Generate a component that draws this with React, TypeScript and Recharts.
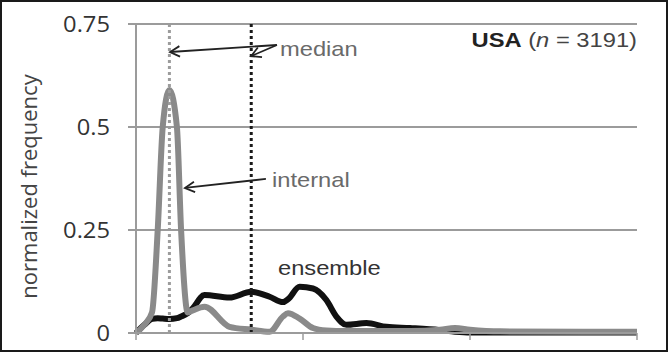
import React from "react";
import {
  LineChart,
  Line,
  XAxis,
  YAxis,
  CartesianGrid,
  ReferenceLine,
  ReferenceDot,
  Label,
} from "recharts";

// normalized frequency curves, sampled along the x axis
const xValues = [
  0, 0.05, 0.096, 0.13, 0.16, 0.2, 0.245, 0.27, 0.31, 0.34, 0.41, 0.56, 0.69,
  0.8, 0.88, 0.91, 0.98, 1.06, 1.14, 1.2, 1.26, 1.38, 1.5, 1.64, 1.82, 1.91,
  2.0, 2.18, 3.0,
];
const internalValues = [
  0, 0.02, 0.05, 0.25, 0.5, 0.59, 0.5, 0.25, 0.05, 0.055, 0.064, 0.015, 0.008,
  0.003, 0.04, 0.048, 0.035, 0.012, 0.006, 0.005, 0.005, 0.005, 0.005, 0.005,
  0.008, 0.012, 0.008, 0.004, 0.003,
];
const ensembleValues = [
  0, 0.02, 0.034, 0.036, 0.035, 0.034, 0.036, 0.04, 0.048, 0.06, 0.092, 0.086,
  0.1, 0.088, 0.075, 0.082, 0.112, 0.108, 0.08, 0.04, 0.02, 0.024, 0.015,
  0.012, 0.007, 0.003, 0.001, 0.001, 0.001,
];

const yTicks = [0, 0.25, 0.5, 0.75];
const xTicks = [0, 1, 2, 3];
const medianInternal = 0.2;
const medianEnsemble = 0.69;

// annotation arrows (tail -> head) and labels, in data units
const arrows = [
  { from: [0.844, 0.699], to: [0.204, 0.682] },
  { from: [0.844, 0.699], to: [0.689, 0.672] },
  { from: [0.778, 0.374], to: [0.293, 0.352] },
];
const notes = [
  { x: 0.862, y: 0.672, text: "median", color: "#6a6a6a" },
  { x: 0.814, y: 0.354, text: "internal", color: "#6a6a6a" },
  { x: 0.85, y: 0.141, text: "ensemble", color: "#333" },
];

const data = xValues.map((x, i) => ({
  x,
  internal: internalValues[i],
  ensemble: ensembleValues[i],
}));

const STRETCH = 1.13;
const GRID = "#9b9b9b";

const YTick = (props: any) => {
  const { x, y, payload } = props;
  return (
    <text
      transform={`translate(${x},${y}) scale(${STRETCH},1)`}
      dy="0.36em"
      textAnchor="end"
      fontFamily="'Open Sans', sans-serif"
      fontSize={21}
      fill="#333"
    >
      {payload.value}
    </text>
  );
};

const Arrow = (props: any) => {
  const { x1, y1, x2, y2 } = props;
  const a = Math.atan2(y1 - y2, x1 - x2);
  const len = 11;
  const spread = 0.5;
  const h1 = [x2 + len * Math.cos(a + spread), y2 + len * Math.sin(a + spread)];
  const h2 = [x2 + len * Math.cos(a - spread), y2 + len * Math.sin(a - spread)];
  return (
    <g stroke="#222" strokeWidth={1.8} fill="none">
      <line x1={x1} y1={y1} x2={x2} y2={y2} />
      <polyline points={`${h1[0]},${h1[1]} ${x2},${y2} ${h2[0]},${h2[1]}`} />
    </g>
  );
};

const noteShape = (text: string, color: string) => (p: any) => (
  <text
    transform={`translate(${p.cx},${p.cy}) scale(${STRETCH},1)`}
    fontFamily="'Liberation Sans', Arial, sans-serif"
    fontSize={21}
    fill={color}
  >
    {text}
  </text>
);

const titleShape = (p: any) => (
  <text
    transform={`translate(${p.cx},${p.cy}) scale(${STRETCH},1)`}
    textAnchor="end"
    fontFamily="'Liberation Sans', Arial, sans-serif"
    fontSize={21}
    fill="#444"
  >
    <tspan fontWeight="bold" fill="#222">
      USA
    </tspan>
    <tspan> (</tspan>
    <tspan fontStyle="italic">n</tspan>
    <tspan> = 3191)</tspan>
  </text>
);

const YTitle = (props: any) => {
  const { viewBox } = props;
  const cx = viewBox.x + 27;
  const cy = viewBox.y + viewBox.height / 2 + 8;
  return (
    <text
      transform={`translate(${cx},${cy}) rotate(-90)`}
      textAnchor="middle"
      dy="0.36em"
      fontFamily="'Open Sans', sans-serif"
      fontSize={22}
      fill="#444"
    >
      normalized frequency
    </text>
  );
};

export default function App() {
  return (
    <div
      style={{
        position: "absolute",
        left: 0,
        top: 0,
        width: 668,
        height: 352,
        border: "2px solid #1a1a1a",
        boxSizing: "border-box",
        background: "#fff",
      }}
    >
      <LineChart
        width={664}
        height={348}
        data={data}
        margin={{ top: 22, right: 29, left: 0, bottom: 0 }}
      >
        <CartesianGrid
          vertical={false}
          stroke={GRID}
          strokeWidth={2}
        />
        <XAxis
          dataKey="x"
          type="number"
          domain={[0, 3]}
          ticks={xTicks}
          height={17}
          tick={() => <g />}
          tickSize={7}
          axisLine={{ stroke: GRID, strokeWidth: 2 }}
          tickLine={{ stroke: GRID, strokeWidth: 1.5 }}
        />
        <YAxis
          type="number"
          domain={[0, 0.75]}
          ticks={yTicks}
          width={134}
          tick={<YTick />}
          tickSize={8}
          tickMargin={18}
          axisLine={{ stroke: GRID, strokeWidth: 2 }}
          tickLine={{ stroke: GRID, strokeWidth: 2 }}
        >
          <Label content={<YTitle />} position="insideLeft" />
        </YAxis>
        <Line
          dataKey="ensemble"
          type="monotone"
          stroke="#111"
          strokeWidth={6}
          dot={false}
          isAnimationActive={false}
        />
        <Line
          dataKey="internal"
          type="monotone"
          stroke="#8a8a8a"
          strokeWidth={6}
          dot={false}
          isAnimationActive={false}
        />
        <ReferenceLine
          x={medianInternal}
          stroke="#9c9c9c"
          strokeWidth={3}
          strokeDasharray="3 3"
        />
        <ReferenceLine
          x={medianEnsemble}
          stroke="#1a1a1a"
          strokeWidth={3}
          strokeDasharray="3 3"
        />
        {arrows.map((a, i) => (
          <ReferenceLine
            key={`arrow-${i}`}
            segment={[
              { x: a.from[0], y: a.from[1] },
              { x: a.to[0], y: a.to[1] },
            ]}
            shape={<Arrow />}
          />
        ))}
        {notes.map((n) => (
          <ReferenceDot
            key={n.text}
            x={n.x}
            y={n.y}
            r={0}
            shape={noteShape(n.text, n.color)}
          />
        ))}
        <ReferenceDot x={3} y={0.694} r={0} shape={titleShape} />
      </LineChart>
    </div>
  );
}
